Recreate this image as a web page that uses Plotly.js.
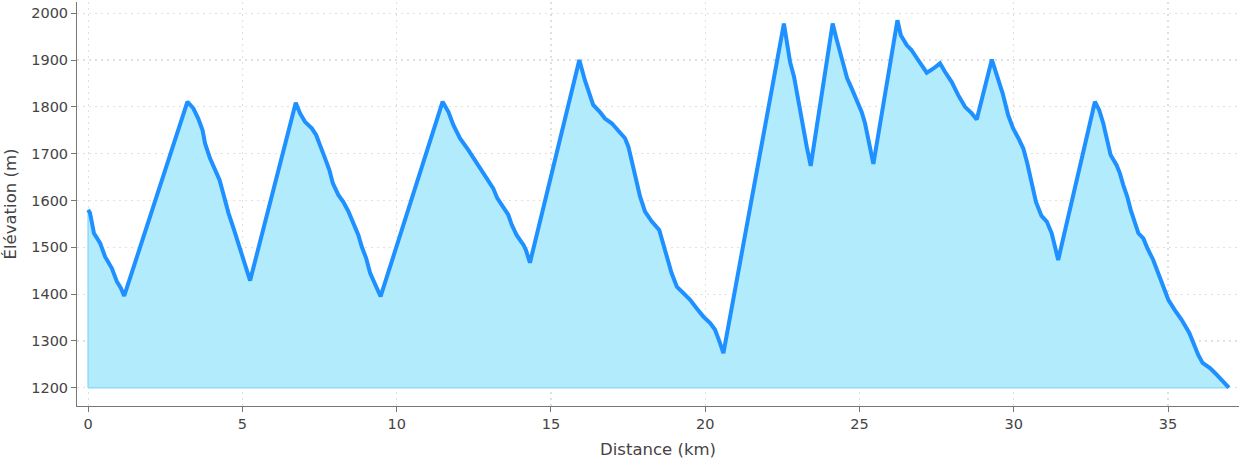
<!DOCTYPE html>
<html>
<head>
<meta charset="utf-8">
<script src="https://cdn.plot.ly/plotly-3.0.1.min.js"></script>
<style>html,body{margin:0;padding:0;background:#fff}#chart{width:1242px;height:460px}</style>
</head>
<body>
<div id="chart"></div>
<script>
const distanceKm = [0,0.06,0.19,0.39,0.55,0.77,0.93,1.06,1.17,
3.22,3.41,3.57,3.71,3.79,3.95,4.12,4.26,4.38,4.55,4.73,4.93,5.09,5.25,
6.73,6.87,7.03,7.25,7.39,7.52,7.68,7.82,7.93,8.11,8.27,8.44,8.60,8.76,8.87,9.01,9.14,9.30,9.48,
11.49,11.68,11.84,12.05,12.32,12.49,12.70,12.92,13.13,13.26,13.46,13.62,13.73,13.89,14.11,14.19,14.32,
15.92,16.10,16.27,16.37,16.59,16.75,16.97,17.18,17.40,17.51,17.62,17.76,17.89,18.05,18.27,18.51,18.64,18.77,18.91,19.08,19.29,19.51,19.72,19.94,20.16,20.32,20.46,20.59,
22.55,22.64,22.75,22.88,22.99,23.07,23.18,23.29,23.42,
24.13,24.24,24.37,24.50,24.60,24.75,24.91,25.07,25.18,25.31,25.45,
26.23,26.34,26.53,26.69,26.83,26.98,27.18,27.40,27.61,27.77,27.99,28.20,28.42,28.64,28.80,
29.29,29.46,29.64,29.82,29.98,30.15,30.31,30.44,30.58,30.72,30.90,31.07,31.23,31.34,31.44,
32.63,32.77,32.90,33.01,33.14,33.33,33.44,33.55,33.68,33.79,33.93,34.04,34.20,34.33,34.52,34.69,34.85,35.01,35.22,35.44,35.69,35.84,35.98,36.12,36.36,36.53,36.69,36.83,36.97];
const elevationM = [1580,1574,1530,1509,1480,1455,1427,1413,1396,
1811,1797,1775,1750,1722,1690,1665,1644,1615,1573,1537,1498,1466,1429,
1809,1786,1768,1754,1740,1715,1690,1665,1637,1612,1597,1576,1551,1526,1501,1477,1445,1423,1395,
1811,1789,1761,1733,1708,1690,1669,1647,1626,1605,1583,1569,1548,1526,1505,1494,1467,
1900,1857,1825,1804,1789,1775,1765,1750,1733,1715,1686,1647,1608,1576,1555,1537,1509,1477,1445,1416,1402,1388,1370,1352,1338,1324,1299,1274,
1978,1942,1896,1864,1821,1800,1757,1715,1674,
1978,1949,1917,1885,1861,1839,1814,1789,1765,1722,1678,
1985,1953,1932,1921,1907,1893,1873,1882,1893,1875,1853,1825,1800,1786,1773,
1901,1868,1829,1782,1754,1733,1711,1679,1637,1597,1567,1555,1530,1501,1473,
1811,1793,1765,1729,1697,1676,1658,1633,1608,1580,1555,1530,1519,1498,1473,1445,1416,1388,1366,1345,1317,1292,1270,1253,1242,1231,1219,1210,1200];
const baseElevation = 1200;
const xTickVals = [0,5,10,15,20,25,30,35];
const yTickVals = [1200,1300,1400,1500,1600,1700,1800,1900,2000];

const n = distanceKm.length;
const polyX = [distanceKm[0]].concat(distanceKm, [distanceKm[n-1], distanceKm[0]]);
const polyY = [baseElevation].concat(elevationM, [baseElevation, baseElevation]);

const fillTrace = {
  x: polyX, y: polyY, type: 'scatter', mode: 'lines',
  fill: 'toself', fillcolor: '#b1ebfc',
  line: {color: '#8fdcf6', width: 1.5},
  hoverinfo: 'skip', showlegend: false
};
const lineTrace = {
  x: distanceKm, y: elevationM, type: 'scatter', mode: 'lines',
  line: {color: '#1e90ff', width: 4, shape: 'linear'},
  showlegend: false
};

const axisFont = {family: 'DejaVu Sans, sans-serif', size: 14.5, color: '#444'};
const titleFont = {family: 'DejaVu Sans, sans-serif', size: 16.5, color: '#444'};
const layout = {
  width: 1242, height: 460,
  margin: {l: 77, r: 3, t: 2, b: 54},
  paper_bgcolor: '#fff', plot_bgcolor: '#fff',
  font: {family: 'DejaVu Sans, sans-serif', color: '#444'},
  xaxis: {
    range: [-0.36, 37.3], tickvals: xTickVals, ticktext: xTickVals.map(String),
    showgrid: true, gridcolor: '#e0e0e0', griddash: '2px,4px', gridwidth: 1.2,
    zeroline: false, showline: true, linecolor: '#777', linewidth: 1,
    ticks: 'outside', ticklen: 5, tickcolor: '#777', tickfont: axisFont,
    title: {text: 'Distance (km)', font: titleFont, standoff: 12}
  },
  yaxis: {
    range: [1161, 2024], tickvals: yTickVals, ticktext: yTickVals.map(String),
    showgrid: true, gridcolor: '#e0e0e0', griddash: '2px,4px', gridwidth: 1.2,
    zeroline: false, showline: true, linecolor: '#777', linewidth: 1,
    ticks: 'outside', ticklen: 5, tickcolor: '#777', tickfont: axisFont,
    title: {text: 'Élévation (m)', font: titleFont, standoff: 10}
  }
};
Plotly.newPlot('chart', [fillTrace, lineTrace], layout, {displayModeBar: false, staticPlot: true});
</script>
</body>
</html>
